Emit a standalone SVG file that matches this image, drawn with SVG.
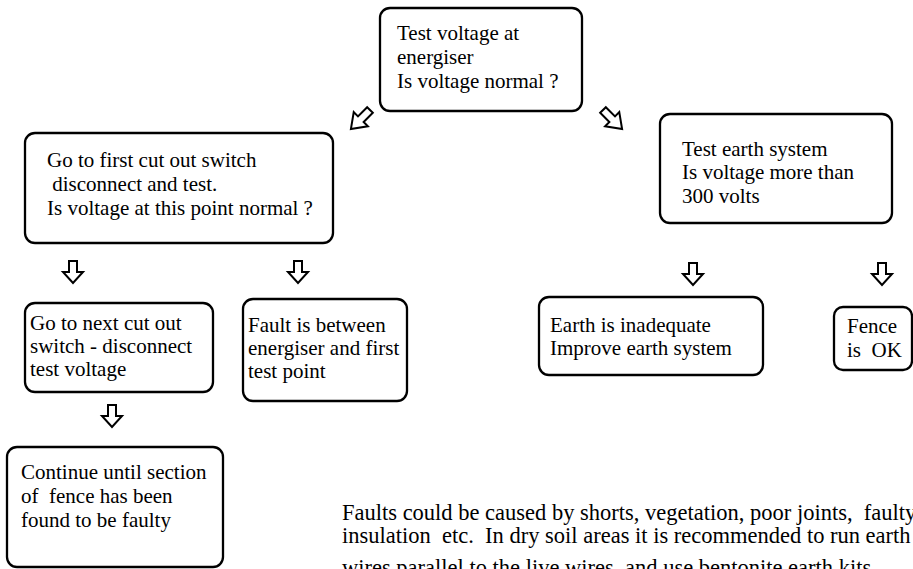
<svg xmlns="http://www.w3.org/2000/svg" width="913" height="569" viewBox="0 0 913 569">
<style>
.box{fill:#fff;stroke:#000;stroke-width:2.3}
.t{font-family:'Liberation Serif','Tinos','Times New Roman','DejaVu Serif',serif;font-size:21px;fill:#000}
.n{font-size:22.5px}
.arr{fill:#fff;stroke:#000;stroke-width:2;stroke-linejoin:miter}
</style>
<defs>
<path id="down" d="M-4,0 H4 V11 H10 L0,22 L-10,11 H-4 Z"/>
<path id="diag" d="M-4,0 H4 V13 H10 L0,27 L-10,13 H-4 Z"/>
</defs>
<rect width="913" height="569" fill="#fff"/>
<g id="connectors">
<use href="#diag" class="arr" transform="translate(370,110) rotate(45)"/>
<use href="#diag" class="arr" transform="translate(603,110) rotate(-45)"/>
<use href="#down" class="arr" transform="translate(73,261)"/>
<use href="#down" class="arr" transform="translate(298,261)"/>
<use href="#down" class="arr" transform="translate(693,263)"/>
<use href="#down" class="arr" transform="translate(882,263)"/>
<use href="#down" class="arr" transform="translate(112,405)"/>
</g>
<g font-family="Liberation Serif, Tinos, Times New Roman, DejaVu Serif, serif">
<g id="n_energiser">
<rect class="box" x="380" y="8" width="202" height="103" rx="10"/>
<text class="t" x="397" y="40">Test voltage at</text>
<text class="t" x="397" y="64">energiser</text>
<text class="t" x="397" y="88">Is voltage normal ?</text>
</g>
<g id="n_first_switch">
<rect class="box" x="25" y="133" width="308" height="110" rx="10"/>
<text class="t" x="47" y="167">Go to first cut out switch</text>
<text class="t" x="47" y="191" xml:space="preserve"> disconnect and test.</text>
<text class="t" x="47" y="215">Is voltage at this point normal ?</text>
</g>
<g id="n_earth_test">
<rect class="box" x="660" y="114" width="232" height="109" rx="10"/>
<text class="t" x="682" y="156">Test earth system</text>
<text class="t" x="682" y="179">Is voltage more than</text>
<text class="t" x="682" y="203">300 volts</text>
</g>
<g id="n_next_switch">
<rect class="box" x="25" y="303" width="188" height="89" rx="10"/>
<text class="t" x="30" y="330">Go to next cut out</text>
<text class="t" x="30" y="353">switch - disconnect</text>
<text class="t" x="30" y="376">test voltage</text>
</g>
<g id="n_fault">
<rect class="box" x="243" y="299" width="164" height="102" rx="10"/>
<text class="t" x="248" y="332">Fault is between</text>
<text class="t" x="248" y="355">energiser and first</text>
<text class="t" x="248" y="378">test point</text>
</g>
<g id="n_earth_bad">
<rect class="box" x="539" y="297" width="224" height="78" rx="10"/>
<text class="t" x="550" y="332">Earth is inadequate</text>
<text class="t" x="550" y="355">Improve earth system</text>
</g>
<g id="n_fence_ok">
<rect class="box" x="834" y="307" width="78" height="63" rx="9"/>
<text class="t" x="847" y="333">Fence</text>
<text class="t" x="847" y="357" xml:space="preserve">is  OK</text>
</g>
<g id="n_continue">
<rect class="box" x="7" y="447" width="216" height="120" rx="10"/>
<text class="t" x="21" y="479">Continue until section</text>
<text class="t" x="21" y="503" xml:space="preserve">of  fence has been</text>
<text class="t" x="21" y="527">found to be faulty</text>
</g>
<g id="note">
<text class="t n" x="342" y="520" xml:space="preserve">Faults could be caused by shorts, vegetation, poor joints,  faulty</text>
<text class="t n" x="342" y="543" xml:space="preserve">insulation  etc.  In dry soil areas it is recommended to run earth</text>
<text class="t n" x="342" y="575" xml:space="preserve">wires parallel to the live wires, and use bentonite earth kits.</text>
</g>
</g>
</svg>
